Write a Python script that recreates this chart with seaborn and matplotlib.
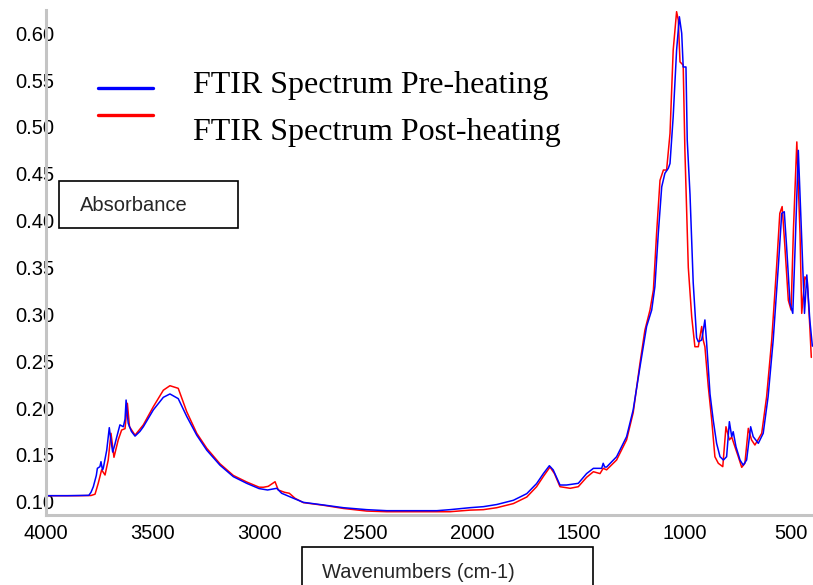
import matplotlib
matplotlib.use("Agg")
import matplotlib.pyplot as plt
from matplotlib.lines import Line2D
from matplotlib.patches import Rectangle
from matplotlib.ticker import MultipleLocator, FormatStrFormatter
import seaborn as sns
import pandas as pd

# FTIR absorbance spectra, wavenumber (cm-1) vs absorbance
pre_wavenumber = [
    4000, 3900, 3850, 3800, 3790, 3779, 3765, 3760, 3748, 3743, 3736, 3732, 3716, 3704,
    3696, 3688, 3679, 3669, 3654, 3638, 3630, 3625, 3620, 3615, 3600, 3583, 3560, 3544,
    3497, 3450, 3419, 3380, 3340, 3293, 3246, 3184, 3121, 3058, 3000, 2960, 2917, 2894,
    2838, 2792, 2698, 2604, 2494, 2400, 2165, 2103, 2009, 1946, 1883, 1805, 1742, 1696,
    1664, 1636, 1618, 1586, 1555, 1500, 1461, 1429, 1390, 1383, 1376, 1367, 1320, 1273,
    1242, 1210, 1179, 1155, 1140, 1124, 1108, 1093, 1077, 1069, 1054, 1038, 1025, 1014,
    1007, 994, 988, 975, 960, 944, 936, 920, 905, 897, 881, 866, 850, 834, 818, 803,
    790, 779, 772, 759, 740, 725, 709, 690, 678, 654, 631, 608, 584, 560, 544, 532,
    521, 505, 492, 481, 466, 451, 437, 426, 412, 400,
]
pre_absorbance = [
    0.1064, 0.1064, 0.1066, 0.1068, 0.1100, 0.1160, 0.1280, 0.1356, 0.1374, 0.1427, 0.1340,
    0.1360, 0.1550, 0.1790, 0.1650, 0.1530, 0.1600, 0.1690, 0.1820, 0.1800, 0.1880, 0.2085,
    0.1950, 0.1837, 0.1750, 0.1700, 0.1750, 0.1800, 0.1980, 0.2114, 0.2150, 0.2100, 0.1910,
    0.1710, 0.1550, 0.1390, 0.1267, 0.1196, 0.1140, 0.1125, 0.1143, 0.1090, 0.1036, 0.0993,
    0.0965, 0.0936, 0.0915, 0.0904, 0.0904, 0.0915, 0.0936, 0.0947, 0.0970, 0.1015, 0.1086,
    0.1193, 0.1300, 0.1384, 0.1340, 0.1178, 0.1178, 0.1196, 0.1300, 0.1356, 0.1356, 0.1410,
    0.1370, 0.1370, 0.1480, 0.1694, 0.1980, 0.2440, 0.2870, 0.3046, 0.3295, 0.3865, 0.4360,
    0.4505, 0.4558, 0.4610, 0.5110, 0.5820, 0.6176, 0.6000, 0.5640, 0.5640, 0.4860, 0.4280,
    0.3340, 0.2750, 0.2707, 0.2726, 0.2940, 0.2700, 0.2150, 0.1872, 0.1623, 0.1480, 0.1445,
    0.1480, 0.1854, 0.1694, 0.1747, 0.1587, 0.1445, 0.1390, 0.1445, 0.1800, 0.1694, 0.1623,
    0.1730, 0.2120, 0.2726, 0.3510, 0.4078, 0.4095, 0.3720, 0.3117, 0.3010, 0.3720, 0.4750,
    0.3860, 0.3010, 0.3420, 0.2940, 0.2660,
]

post_wavenumber = [
    4000, 3850, 3790, 3771, 3756, 3740, 3724, 3709, 3696, 3682, 3662, 3646, 3630, 3619,
    3609, 3583, 3544, 3497, 3450, 3419, 3380, 3340, 3293, 3246, 3184, 3121, 3058, 3000,
    2980, 2957, 2925, 2910, 2880, 2858, 2831, 2792, 2698, 2604, 2494, 2400, 2103, 2009,
    1946, 1883, 1805, 1742, 1696, 1664, 1633, 1612, 1586, 1538, 1500, 1461, 1429, 1398,
    1383, 1367, 1320, 1273, 1242, 1210, 1187, 1163, 1147, 1132, 1116, 1100, 1085, 1069,
    1054, 1038, 1030, 1022, 1007, 999, 983, 967, 952, 936, 920, 913, 905, 889, 873, 858,
    842, 821, 806, 790, 779, 764, 748, 732, 717, 701, 686, 670, 638, 615, 591, 568, 553,
    542, 529, 513, 500, 489, 473, 458, 450, 435, 424, 412, 405,
]
post_absorbance = [
    0.1064, 0.1064, 0.1066, 0.1080, 0.1196, 0.1340, 0.1285, 0.1445, 0.1730, 0.1474, 0.1660,
    0.1765, 0.1780, 0.2050, 0.1800, 0.1710, 0.1820, 0.2014, 0.2190, 0.2238, 0.2210, 0.1960,
    0.1730, 0.1570, 0.1405, 0.1280, 0.1210, 0.1155, 0.1154, 0.1164, 0.1213, 0.1125, 0.1100,
    0.1090, 0.1036, 0.0990, 0.0962, 0.0928, 0.0900, 0.0893, 0.0893, 0.0910, 0.0915, 0.0936,
    0.0980, 0.1050, 0.1160, 0.1270, 0.1370, 0.1300, 0.1160, 0.1143, 0.1160, 0.1260, 0.1320,
    0.1300, 0.1356, 0.1340, 0.1445, 0.1660, 0.1950, 0.2480, 0.2830, 0.3046, 0.3260, 0.3865,
    0.4430, 0.4540, 0.4540, 0.4930, 0.5820, 0.6230, 0.6140, 0.5694, 0.5660, 0.4750, 0.3500,
    0.2974, 0.2654, 0.2654, 0.2870, 0.2726, 0.2654, 0.2227, 0.1872, 0.1480, 0.1410, 0.1374,
    0.1800, 0.1660, 0.1690, 0.1587, 0.1480, 0.1367, 0.1410, 0.1783, 0.1660, 0.1605, 0.1730,
    0.2120, 0.2726, 0.3510, 0.4078, 0.4150, 0.3720, 0.3150, 0.3046, 0.3900, 0.4840, 0.3860,
    0.3010, 0.3400, 0.3360, 0.2870, 0.2540,
]

series_labels = ["FTIR Spectrum Pre-heating", "FTIR Spectrum Post-heating"]
series_colors = ["#0000ff", "#ff0000"]
x_label = "Wavenumbers (cm-1)"
y_label = "Absorbance"

pre = pd.DataFrame({"wavenumber": pre_wavenumber, "absorbance": pre_absorbance})
post = pd.DataFrame({"wavenumber": post_wavenumber, "absorbance": post_absorbance})

sns.set_style("white")
plt.rcParams["font.family"] = ["Liberation Sans", "DejaVu Sans"]

W, H = 813, 585
fig = plt.figure(figsize=(W / 100, H / 100), dpi=100)

def fx(px):
    return px / W

def fy(py):
    return 1 - py / H

ax = fig.add_axes([fx(46.3), fy(515), fx(813) - fx(46.3), fy(10) - fy(515)])

sns.lineplot(data=post, x="wavenumber", y="absorbance", color=series_colors[1],
             linewidth=1.1, estimator=None, ax=ax)
sns.lineplot(data=pre, x="wavenumber", y="absorbance", color=series_colors[0],
             linewidth=1.1, estimator=None, ax=ax)

ax.set_xlim(4000, 397)
ax.set_ylim(0.0858, 0.6248)
ax.set_xlabel("")
ax.set_ylabel("")

ax.xaxis.set_major_locator(MultipleLocator(500))
ax.xaxis.set_minor_locator(MultipleLocator(100))
ax.yaxis.set_major_locator(MultipleLocator(0.05))
ax.yaxis.set_minor_locator(MultipleLocator(0.01))
ax.yaxis.set_major_formatter(FormatStrFormatter("%.2f"))

for side in ("top", "right"):
    ax.spines[side].set_visible(False)
for side in ("left", "bottom"):
    ax.spines[side].set_color("#c4c4c4")
    ax.spines[side].set_linewidth(2.2)

ax.tick_params(axis="both", which="both", direction="inout", color="#333333",
               width=0.8, labelsize=14.5, labelcolor="#000000")
ax.tick_params(axis="both", which="major", length=3.5)
ax.tick_params(axis="both", which="minor", length=2.5)
ax.tick_params(axis="y", which="major", pad=-7.5)
ax.tick_params(axis="x", which="major", pad=5)
ax.set_facecolor("white")

# legend keys and labels
key_rows = [88.3, 115.0]
text_rows = [82.5, 129.0]
for key_y, text_y, label, color in zip(key_rows, text_rows, series_labels, series_colors):
    fig.add_artist(Line2D([fx(97.5), fx(152.7)], [fy(key_y), fy(key_y)],
                          color=color, linewidth=2.4, transform=fig.transFigure))
    fig.text(fx(192.7), fy(text_y), label, family=["Liberation Serif", "DejaVu Serif"],
             fontsize=23, ha="left", va="center_baseline", color="black")

# boxed axis titles
fig.add_artist(Rectangle((fx(59.3), fy(227.7)), fx(237.7) - fx(59.3), fy(181) - fy(227.7),
                         transform=fig.transFigure, fill=False, edgecolor="black",
                         linewidth=1.2))
fig.text(fx(80), fy(203.5), y_label, fontsize=14.5, ha="left", va="center_baseline")

fig.add_artist(Rectangle((fx(301.7), fy(600)), fx(593.3) - fx(301.7), fy(546.7) - fy(600),
                         transform=fig.transFigure, fill=False, edgecolor="black",
                         linewidth=1.2, clip_on=False))
fig.text(fx(321.7), fy(570), x_label, fontsize=14.5, ha="left", va="center_baseline")

fig.savefig("out.png", dpi=100, facecolor="white")
